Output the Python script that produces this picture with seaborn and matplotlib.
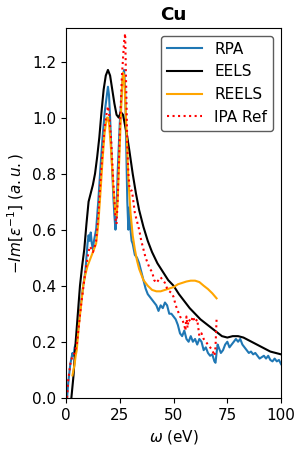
import numpy as np
import pandas as pd
import matplotlib
matplotlib.use("Agg")
import matplotlib.pyplot as plt
import seaborn as sns

plt.rcParams['font.size'] = 11

rpa_x = [0.5,1,2,3,3.5,4,5,6,7,8,9,10,10.5,11,11.5,12,12.5,13,14,15,16,17,18,19,19.5,20,20.5,21,22,22.5,23,23.5,24,25,26,26.5,27,27.5,28,28.5,29,29.5,30,30.5,31,32,33,34,35,36,37,38,39,40,41,42,43,44,45,46,47,48,49,50,51,52,53,54,55,56,57,58,59,60,61,62,63,64,65,66,67,68,69,69.5,70,70.5,71,72,73,74,75,76,77,78,79,80,81,82,83,84,85,86,87,88,89,90,91,92,93,94,95,96,97,98,99,100]
rpa_y = [0.0,0.05,0.12,0.16,0.15,0.18,0.2,0.27,0.34,0.4,0.45,0.55,0.58,0.56,0.59,0.55,0.53,0.56,0.6,0.7,0.82,0.93,1.02,1.08,1.11,1.08,1.0,0.9,0.72,0.65,0.6,0.66,0.8,0.98,1.1,1.15,1.17,1.1,0.9,0.7,0.6,0.68,0.6,0.56,0.55,0.51,0.5,0.48,0.45,0.42,0.39,0.37,0.36,0.35,0.34,0.33,0.31,0.33,0.32,0.34,0.33,0.30,0.30,0.29,0.28,0.26,0.23,0.22,0.24,0.21,0.20,0.22,0.20,0.21,0.19,0.21,0.20,0.17,0.18,0.16,0.15,0.155,0.13,0.125,0.16,0.19,0.18,0.16,0.17,0.19,0.20,0.18,0.19,0.20,0.21,0.20,0.21,0.19,0.18,0.17,0.16,0.165,0.155,0.16,0.15,0.14,0.145,0.15,0.14,0.15,0.135,0.13,0.14,0.13,0.135,0.12]

eels_x = [2.5,3.5,4.5,5.5,6.5,7.5,8.5,9.5,10.5,11.5,12.5,13.5,14.5,15.5,16.5,17.5,18.5,19.5,20.5,21.5,22.5,23.5,24.5,25.5,26.5,27.5,28.5,29.5,31,32.5,34,36,38,40,42.5,45,47.5,50,52.5,55,57.5,60,62.5,65,67.5,70,72.5,75,77.5,80,82.5,85,87.5,90,92.5,95,97.5,100]
eels_y = [0,0.08,0.2,0.3,0.4,0.47,0.53,0.62,0.7,0.73,0.76,0.8,0.86,0.93,1.02,1.1,1.15,1.17,1.15,1.1,1.05,1.01,1.0,1.02,1.01,0.97,0.93,0.88,0.8,0.73,0.67,0.61,0.56,0.52,0.48,0.45,0.42,0.40,0.37,0.345,0.32,0.30,0.28,0.265,0.25,0.235,0.22,0.215,0.22,0.22,0.215,0.205,0.195,0.185,0.175,0.165,0.16,0.155]

reels_x = [3,3.5,4,4.5,5,6,7,8,9,10,11,12,13,14,15,16,17,18,19,19.5,20,21,22,23,23.5,24,25,26,26.5,27,28,29,30,31,32,33,34,35,36,38,40,42,44,46,48,50,52,54,56,58,60,62,64,66,68,70]
reels_y = [0.08,0.1,0.12,0.15,0.17,0.26,0.33,0.4,0.44,0.47,0.49,0.51,0.53,0.55,0.62,0.73,0.85,0.95,1.0,1.0,0.98,0.88,0.75,0.66,0.65,0.7,0.9,1.1,1.16,1.15,0.98,0.78,0.66,0.58,0.53,0.49,0.46,0.44,0.42,0.4,0.385,0.38,0.38,0.385,0.39,0.395,0.405,0.41,0.415,0.418,0.418,0.413,0.40,0.388,0.373,0.355]

ipa_x = [0.5,1,2,3,4,5,6,7,8,9,10,11,12,12.5,13,14,15,16,17,18,19,19.5,20,21,22,23,23.5,24,25,26,27,27.5,28,28.5,29,29.5,30,30.5,31,32,33,34,35,36,37,38,39,40,41,42,43,44,45,46,47,48,49,50,51,52,53,54,55,55.5,56,56.5,57,58,59,60,61,62,63,64,65,66,67,68,69,69.5,70]
ipa_y = [0,0.06,0.12,0.15,0.16,0.19,0.26,0.33,0.39,0.45,0.5,0.54,0.53,0.52,0.53,0.56,0.65,0.77,0.88,0.97,1.02,1.04,1.02,0.92,0.77,0.64,0.62,0.7,0.95,1.15,1.27,1.30,1.1,0.9,0.8,0.75,0.74,0.74,0.72,0.66,0.63,0.6,0.56,0.53,0.5,0.48,0.46,0.45,0.42,0.41,0.42,0.43,0.42,0.41,0.39,0.38,0.375,0.36,0.33,0.31,0.29,0.28,0.26,0.24,0.29,0.25,0.28,0.27,0.29,0.27,0.28,0.22,0.23,0.21,0.2,0.19,0.18,0.17,0.15,0.18,0.28]

fig = plt.figure(figsize=(3, 4.5), dpi=100)
ax = fig.add_axes([0.22, 0.116, 0.717, 0.822])

sns.lineplot(x=rpa_x, y=rpa_y, ax=ax, color='#1f77b4', lw=1.5, label='RPA', estimator=None, sort=False)
sns.lineplot(x=eels_x, y=eels_y, ax=ax, color='black', lw=1.5, label='EELS', estimator=None, sort=False)
sns.lineplot(x=reels_x, y=reels_y, ax=ax, color='orange', lw=1.5, label='REELS', estimator=None, sort=False)
sns.lineplot(x=ipa_x, y=ipa_y, ax=ax, color='red', lw=1.5, ls=':', label='IPA Ref', estimator=None, sort=False)

ax.set_xlim(0, 100)
ax.set_ylim(0, 1.32)
ax.set_xticks([0, 25, 50, 75, 100])
ax.set_yticks([0.0, 0.2, 0.4, 0.6, 0.8, 1.0, 1.2])
ax.set_xlabel(r'$\omega$ (eV)')
ax.set_ylabel(r'$-Im[\epsilon^{-1}]\ (a.u.)$')
ax.set_title('Cu', fontweight='bold')
ax.legend(loc='upper right', handlelength=2.3, edgecolor='0.2')

fig.savefig('out.png', dpi=100)
